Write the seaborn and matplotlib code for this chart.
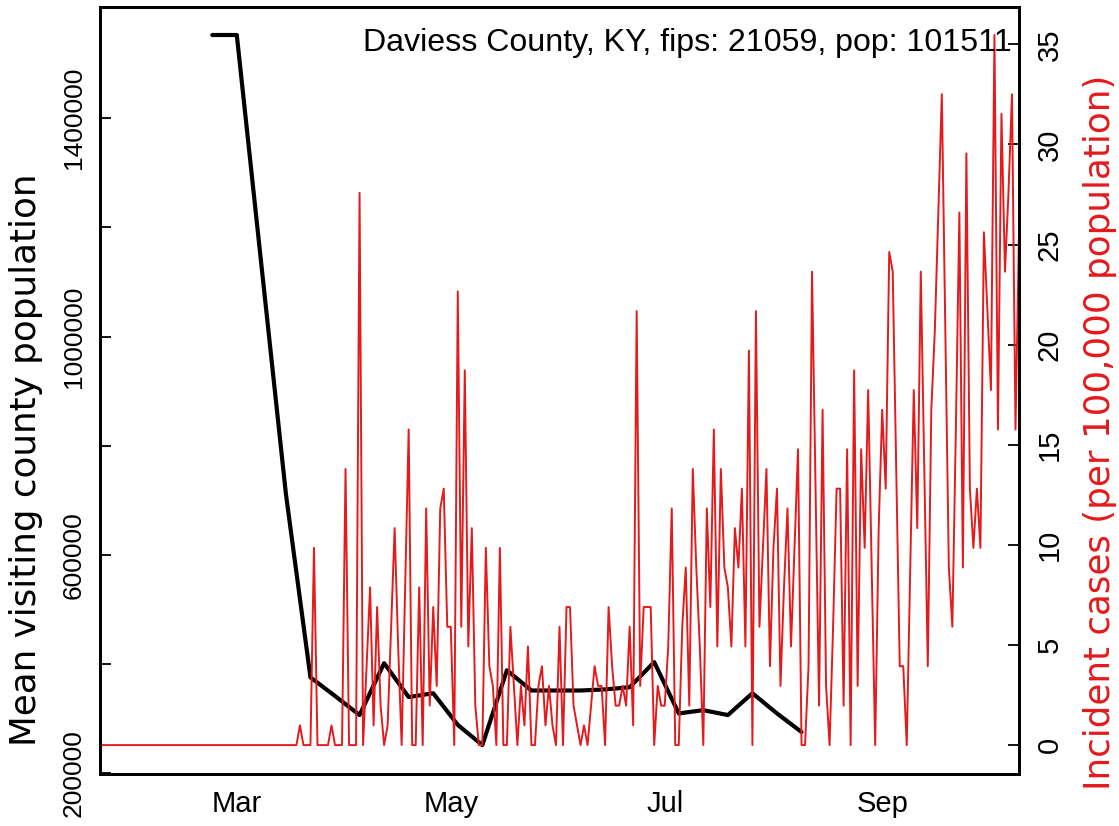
import numpy as np
import pandas as pd
import matplotlib
matplotlib.use('Agg')
import matplotlib.pyplot as plt
import seaborn as sns

# county info
county_title = 'Daviess County, KY, fips: 21059, pop: 101511'
pop = 101511

# daily new cases, one per day starting 2020-01-22
case_start = '2020-01-22'
daily_cases = [
    0, 0, 0, 0, 0, 0, 0, 0, 0, 0, 0, 0, 0, 0, 0, 0, 0, 0, 0, 0,
    0, 0, 0, 0, 0, 0, 0, 0, 0, 0, 0, 0, 0, 0, 0, 0, 0, 0, 0, 0,
    0, 0, 0, 0, 0, 0, 0, 0, 0, 0, 0, 0, 0, 0, 0, 0, 0,
    1, 0, 0, 0, 10, 0, 0, 0, 0, 1, 0, 0, 0, 14, 0, 0, 0, 28, 0, 4,
    8, 1, 7, 2, 0, 1, 6, 11, 5, 0, 8, 16, 0, 0, 8, 0, 12, 2, 7, 3,
    12, 13, 6, 6, 0, 23, 6, 19, 5, 11, 2, 0, 0, 10, 4, 3, 0, 10, 0, 0,
    6, 3, 0, 3, 1, 5, 0, 0, 3, 4, 1, 3, 1, 0, 6, 0, 7, 7, 2, 1,
    0, 1, 0, 2, 4, 3, 3, 0, 7, 4, 2, 2, 3, 2, 6, 1, 22, 3, 7, 7,
    7, 0, 3, 2, 2, 5, 12, 0, 0, 6, 9, 2, 14, 9, 5, 0, 12, 7, 16, 5,
    14, 9, 8, 5, 11, 9, 13, 5, 20, 0, 22, 6, 10, 14, 4, 10, 13, 3, 8, 12,
    5, 10, 15, 0, 0, 4, 24, 13, 2, 17, 3, 0, 6, 13, 13, 2, 15, 0, 19, 3,
    15, 10, 18, 9, 0, 11, 17, 13, 25, 24, 14, 4, 4, 0, 9, 18, 11, 24, 14, 4,
    17, 21, 27, 33, 21, 9, 6, 16, 27, 9, 30, 13, 10, 13, 10, 26, 22, 18, 36, 16,
    32, 24, 28, 33, 16, 26,
]

# weekly mean visiting county population, starting 2020-02-23
visit_start = '2020-02-23'
mean_visiting = [
    1552500, 1552500, 1132000, 712000, 376000, 342000, 307000, 402000,
    340000, 347000, 289000, 252000, 389000, 352000, 352000, 352000,
    354000, 358000, 404000, 310000, 316000, 307000, 347000, 310000, 276000,
]

month_ticks = ['2020-03-01', '2020-05-01', '2020-07-01', '2020-09-01']
month_labels = ['Mar', 'May', 'Jul', 'Sep']
left_ticks = [200000, 400000, 600000, 800000, 1000000, 1200000, 1400000]
left_labels = ['200000', '', '600000', '', '1000000', '', '1400000']
right_ticks = [0, 5, 10, 15, 20, 25, 30, 35]

cases = pd.DataFrame({
    'date': pd.date_range(case_start, periods=len(daily_cases), freq='D'),
    'incidence': np.array(daily_cases) * 100000 / pop,
})
visits = pd.DataFrame({
    'date': pd.date_range(visit_start, periods=len(mean_visiting), freq='7D'),
    'visiting': mean_visiting,
})

sns.set_style('white')
plt.rcParams['font.family'] = ['Liberation Sans', 'DejaVu Sans']
plt.rcParams['text.color'] = 'black'
red = '#E41A1C'

W, H = 1119, 826
fig = plt.figure(figsize=(W / 100, H / 100), dpi=100)
left, right, top, bottom = 100, 1019, 6.6, 773.5
ax1 = fig.add_axes([left / W, (H - bottom) / H, (right - left) / W, (bottom - top) / H])
ax2 = ax1.twinx()

sns.lineplot(data=visits, x='date', y='visiting', ax=ax1, color='black', linewidth=3)
sns.lineplot(data=cases, x='date', y='incidence', ax=ax2, color=red, linewidth=1.4)

ax1.set_xlim(pd.Timestamp('2020-01-22'), pd.Timestamp('2020-10-10'))


def r_range(v):
    lo, hi = min(v), max(v)
    d = 0.04 * (hi - lo)
    return lo - d, hi + d


ax1.set_ylim(*r_range(visits['visiting']))
ax2.set_ylim(*r_range(cases['incidence']))

ax1.set_xticks(pd.to_datetime(month_ticks))
ax1.set_xticklabels(month_labels)
ax1.set_yticks(left_ticks)
ax1.set_yticklabels(left_labels, rotation=90, va='center')
ax2.set_yticks(right_ticks)
ax2.set_yticklabels([str(t) for t in right_ticks], rotation=90, va='center')

ax1.tick_params(axis='x', direction='in', length=8, width=1.3, labelsize=21, pad=12,
                colors='black', labelcolor='black')
ax1.tick_params(axis='y', direction='in', length=8, width=1.3, labelsize=19, pad=10,
                colors='black', labelcolor='black')
ax2.tick_params(axis='y', direction='in', length=8, width=1.3, labelsize=21, pad=12,
                colors='black', labelcolor='black')

for a in (ax1, ax2):
    a.set_xlabel('')
    a.set_ylabel('')
    for s in a.spines.values():
        s.set_color('black')
        s.set_linewidth(2)
        s.set_visible(True)

# the axis titles in the original are wide for their height, DejaVu is closer
fig.text(26 / W, 1 - 460 / H, 'Mean visiting county population', rotation=90,
         ha='center', va='center', fontsize=25.7, color='black', family='DejaVu Sans')
fig.text(1100 / W, 1 - 432 / H, 'Incident cases (per 100,000 population)', rotation=90,
         ha='center', va='center', fontsize=25.7, color=red, family='DejaVu Sans')
ax2.text((1012 - left) / (right - left), (bottom - 28) / (bottom - top), county_title,
         transform=ax2.transAxes, ha='right', va='top', fontsize=23.1, color='black')

fig.savefig('out.png', dpi=100)
